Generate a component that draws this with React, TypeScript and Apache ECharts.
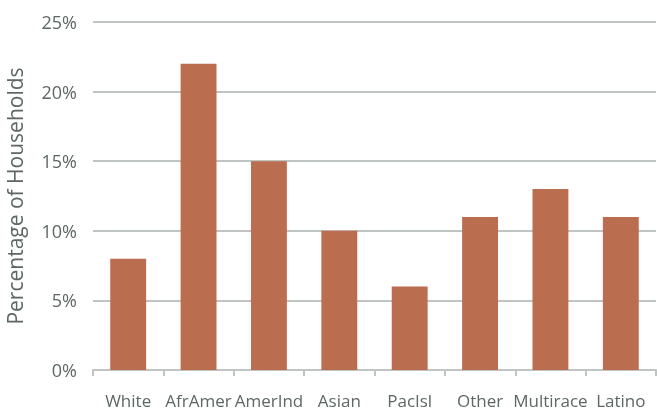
import React, { useEffect, useRef } from "react";
import * as echarts from "echarts";

const categories = ["White", "AfrAmer", "AmerInd", "Asian", "PacIsl", "Other", "Multirace", "Latino"];
const values = [8, 22, 15, 10, 6, 11, 13, 11];
const yTicks = [0, 5, 10, 15, 20, 25];
const yAxisTitle = "Percentage of Households";

const FONT = "'Open Sans', sans-serif";
const TEXT = "#5d6766";
const GRID = "#c0c4c3";

export default function App() {
  const ref = useRef<HTMLDivElement>(null);
  useEffect(() => {
    if (!ref.current) return;
    const chart = echarts.init(ref.current, undefined, { renderer: "svg" });
    chart.setOption({
      animation: false,
      grid: { left: 93, right: 1, top: 22, bottom: 41, containLabel: false, outerBoundsMode: "none" },
      xAxis: {
        type: "category",
        data: categories,
        axisLine: { lineStyle: { color: GRID, width: 2 } },
        axisTick: { show: true, length: 6, lineStyle: { color: GRID, width: 2 } },
        axisLabel: { color: TEXT, fontFamily: FONT, fontSize: 17, margin: 22, interval: 0 },
      },
      yAxis: {
        type: "value",
        min: yTicks[0],
        max: yTicks[yTicks.length - 1],
        interval: 5,
        name: yAxisTitle,
        nameLocation: "middle",
        nameGap: 68,
        nameTextStyle: { color: TEXT, fontFamily: FONT, fontSize: 21 },
        axisLine: { show: false },
        axisTick: { show: false },
        axisLabel: { color: TEXT, fontFamily: FONT, fontSize: 18, margin: 16, formatter: "{value}%" },
        splitLine: { lineStyle: { color: GRID, width: 2 } },
      },
      series: [
        {
          type: "bar",
          data: values,
          barWidth: "51%",
          itemStyle: { color: "#bb6d50" },
        },
      ],
    });
    return () => chart.dispose();
  }, []);
  return <div ref={ref} style={{ position: "fixed", left: 0, top: 0, width: 657, height: 411 }} />;
}
